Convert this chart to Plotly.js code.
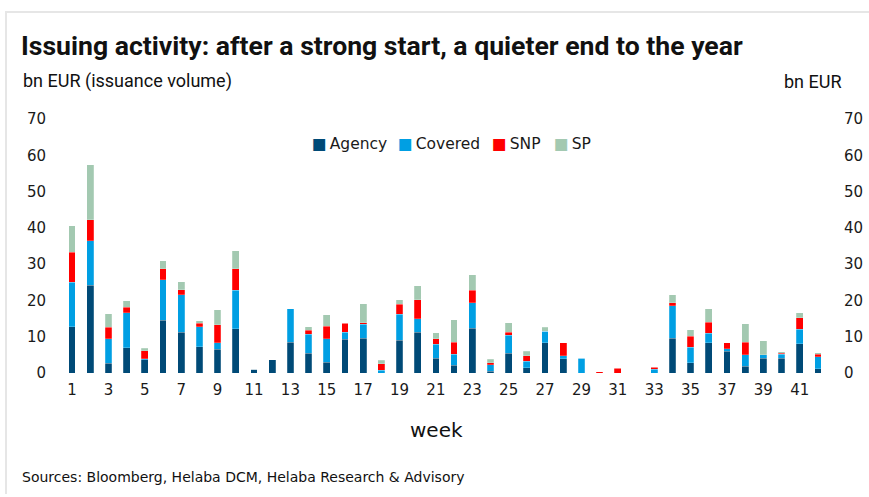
<!DOCTYPE html>
<html>
<head>
<meta charset="utf-8">
<script src="https://cdn.plot.ly/plotly-3.0.1.min.js"></script>
<style>
  html, body { margin: 0; padding: 0; background: #ffffff; }
  #wrap { position: relative; width: 869px; height: 497px; }
  #chart { position: absolute; left: 0; top: 0; width: 869px; height: 497px; }
  #frame { position: absolute; left: 5px; top: 11px; width: 864px; height: 481px;
           border-left: 2px solid #e6e6e6; border-top: 2px solid #e6e6e6; pointer-events: none; }
</style>
</head>
<body>
<div id="wrap">
  <div id="chart"></div>
  <div id="frame"></div>
</div>
<script>
const weeks = [1,2,3,4,5,6,7,8,9,10,11,12,13,14,15,16,17,18,19,20,21,22,23,24,25,26,27,28,29,30,31,32,33,34,35,36,37,38,39,40,41,42];
const agency  = [12.7,24.2,2.7,6.9,3.6,14.5,11.2,7.3,6.5,12.2,1.1,3.6,8.5,5.5,3.0,9.3,9.6,0,9.0,11.2,4.0,2.1,12.4,0.5,5.4,1.5,8.4,3.9,0,0,0,0,0,9.6,2.8,8.4,6.0,1.8,4.0,4.0,8.0,1.2];
const covered = [12.3,12.3,6.8,9.7,0.3,11.2,10.4,5.5,1.9,10.6,0,0,9.2,5.2,6.5,1.9,3.8,0.7,7.2,3.8,3.9,3.0,6.9,1.8,5.0,1.8,3.1,0.9,4.0,0,0,0,1.1,9.0,4.3,2.6,0.7,3.2,1.0,1.1,4.0,3.3];
const snp     = [8.3,5.8,3.1,1.5,2.3,3.1,1.3,0.9,4.9,5.9,0,0,0,1.1,3.4,2.5,0.4,1.8,2.7,5.2,1.6,3.4,3.5,0.5,0.8,1.5,0,3.6,0,0.4,1.3,0,0.5,0.7,3.0,3.0,1.7,3.5,0,0.4,3.2,0.6];
const sp      = [7.3,15.1,3.7,1.8,0.6,2.1,2.3,0.7,4.1,5.0,0,0,0,1.0,3.2,0,5.3,1.0,1.3,3.9,1.6,6.2,4.3,1.0,2.6,1.2,1.1,0,0.2,0,0,0,0,2.2,1.8,3.7,0,5.1,3.9,0.4,1.4,0.5];
const seriesNames = ["Agency","Covered","SNP","SP"];
const xTicks = [1,3,5,7,9,11,13,15,17,19,21,23,25,27,29,31,33,35,37,39,41];
const yTicks = [0,10,20,30,40,50,60,70];

const colors = ["#004a77","#009fe3","#ff0000","#a3c9b1"];
const values = [agency, covered, snp, sp];

const traces = values.map((v, i) => ({
  type: "bar",
  name: seriesNames[i],
  x: weeks,
  y: v,
  marker: { color: colors[i], line: { color: "rgba(255,255,255,0.35)", width: 0.6 } },
  showlegend: false,
  hoverinfo: "x+y+name"
}));
// invisible trace to attach the right-hand axis
traces.push({ type: "scatter", x: [weeks[0]], y: [0], yaxis: "y2", mode: "markers",
  marker: { opacity: 0 }, showlegend: false, hoverinfo: "skip" });

const tickFont = { family: "DejaVu Sans, sans-serif", size: 15, color: "#1a1a1a" };
const PL = 63, PW = 764, PB = 373, PH = 254;
const px = x => (x - PL) / PW;
const py = y => (PB - y) / PH;

// legend built as text: square glyph in the series colour followed by the name
const legendX = [310, 396, 490, 552];
const legendAnn = seriesNames.map((n, i) => ({
  text: "<span style='color:" + colors[i] + "'>■</span>\u2009" + n,
  xref: "paper", yref: "paper", x: px(legendX[i]), y: py(144),
  xanchor: "left", yanchor: "middle", showarrow: false,
  font: { family: "DejaVu Sans, sans-serif", size: 15.5, color: "#1a1a1a" }
}));

const layout = {
  width: 869, height: 497,
  barmode: "stack",
  bargap: 0.63,
  paper_bgcolor: "rgba(0,0,0,0)",
  plot_bgcolor: "rgba(0,0,0,0)",
  margin: { l: PL, r: 869 - PL - PW, t: PB - PH, b: 497 - PB },
  showlegend: false,
  title: {
    text: "<b>Issuing activity: after a strong start, a quieter end to the year</b>",
    font: { family: "Roboto, sans-serif", size: 26.6, color: "#111111" },
    x: 21 / 869, xref: "container", xanchor: "left",
    y: 1 - 46 / 497, yref: "container", yanchor: "middle"
  },
  xaxis: {
    range: [0.5, 42.5],
    tickmode: "array", tickvals: xTicks, ticktext: xTicks.map(String),
    showgrid: false, zeroline: false, showline: false, ticks: "",
    tickfont: tickFont, ticklabelstandoff: 6
  },
  yaxis: {
    range: [0, 70],
    tickmode: "array", tickvals: yTicks,
    showgrid: false, zeroline: false, showline: false, ticks: "",
    tickfont: tickFont, ticklabelstandoff: 16
  },
  yaxis2: {
    range: [0, 70], overlaying: "y", side: "right",
    tickmode: "array", tickvals: yTicks,
    showgrid: false, zeroline: false, showline: false, ticks: "",
    tickfont: tickFont, ticklabelstandoff: 16
  },
  annotations: legendAnn.concat([
    { text: "bn EUR (issuance volume)", xref: "paper", yref: "paper",
      x: px(21), y: py(81), xanchor: "left", yanchor: "middle", showarrow: false,
      font: { family: "Roboto, sans-serif", size: 18, color: "#111111" } },
    { text: "bn EUR", xref: "paper", yref: "paper",
      x: px(844), y: py(81), xanchor: "right", yanchor: "middle", showarrow: false,
      font: { family: "Roboto, sans-serif", size: 18, color: "#111111" } },
    { text: "week", xref: "paper", yref: "paper",
      x: px(436), y: py(430), xanchor: "center", yanchor: "middle", showarrow: false,
      font: { family: "DejaVu Sans, sans-serif", size: 20, color: "#111111" } },
    { text: "Sources: Bloomberg, Helaba DCM, Helaba Research & Advisory", xref: "paper", yref: "paper",
      x: px(20), y: py(477), xanchor: "left", yanchor: "middle", showarrow: false,
      font: { family: "DejaVu Sans, sans-serif", size: 14, color: "#111111" } }
  ])
};

Plotly.newPlot("chart", traces, layout, { displayModeBar: false, staticPlot: true });
</script>
</body>
</html>
